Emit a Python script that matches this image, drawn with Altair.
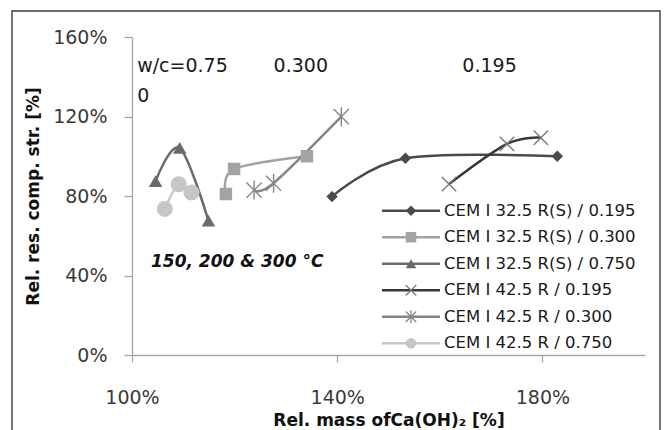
import altair as alt
import pandas as pd

# ---- series --------------------------------------------------------------
series_names = [
    "CEM I 32.5 R(S) / 0.195",
    "CEM I 32.5 R(S) / 0.300",
    "CEM I 32.5 R(S) / 0.750",
    "CEM I 42.5 R / 0.195",
    "CEM I 42.5 R / 0.300",
    "CEM I 42.5 R / 0.750",
]

# relative mass of Ca(OH)2 [%] and relative residual compressive strength [%]
mass_325_0195 = [139.0, 153.3, 182.9]
str_325_0195 = [79.7, 99.0, 100.0]
mass_325_0300 = [118.3, 119.9, 134.1]
str_325_0300 = [81.0, 93.6, 100.0]
mass_325_0750 = [104.6, 109.3, 114.9]
str_325_0750 = [87.5, 104.2, 67.6]
mass_425_0195 = [161.8, 173.1, 179.7]
str_425_0195 = [86.0, 106.2, 109.3]
mass_425_0300 = [123.8, 127.6, 140.8]
str_425_0300 = [83.0, 86.4, 119.9]
mass_425_0750 = [106.4, 109.1, 111.6]
str_425_0750 = [73.5, 85.9, 81.7]

x_ticks = [100, 140, 180]
y_ticks = [0, 40, 80, 120, 160]

# ---- styling per series -------------------------------------------------
line_colors = ["#4a4a4a", "#a3a3a3", "#6a6a6a", "#383838", "#858585", "#c6c6c6"]
marker_strokes = ["#4a4a4a", "#a3a3a3", "#6a6a6a", "#7a7a7a", "#858585", "#c6c6c6"]
x_path = "M-1,-1L1,1M-1,1L1,-1"
star_path = "M-1,-1L1,1M-1,1L1,-1M0,-1.25L0,1.25"
shapes = ["diamond", "square", "triangle-up", x_path, star_path, "circle"]
sizes = [130, 256, 256, 200, 200, 256]
open_markers = ["CEM I 42.5 R / 0.195", "CEM I 42.5 R / 0.300"]

pairs = [
    (mass_325_0195, str_325_0195),
    (mass_325_0300, str_325_0300),
    (mass_325_0750, str_325_0750),
    (mass_425_0195, str_425_0195),
    (mass_425_0300, str_425_0300),
    (mass_425_0750, str_425_0750),
]
rows = []
for name, (xs, ys) in zip(series_names, pairs):
    for xv, yv in zip(xs, ys):
        rows.append({"series": name, "mass": xv, "strength": yv,
                     "open": name in open_markers})
df = pd.DataFrame(rows)

legend_df = pd.DataFrame({
    "series": series_names,
    "row": list(range(len(series_names))),
    "open": [n in open_markers for n in series_names],
})

color_scale = alt.Scale(domain=series_names, range=line_colors)
stroke_scale = alt.Scale(domain=series_names, range=marker_strokes)
shape_scale = alt.Scale(domain=series_names, range=shapes)
size_scale = alt.Scale(domain=series_names, range=sizes)

FONT = "DejaVu Sans"

x_enc = alt.X(
    "mass:Q",
    scale=alt.Scale(domain=[100, 200], nice=False, zero=False),
    axis=alt.Axis(
        values=x_ticks, labelExpr="datum.value + '%'",
        title="Rel. mass ofCa(OH)₂ [%]",
        tickSize=7, labelPadding=26, labelBaseline="top", labelFlush=False,
        titleY=70, titleBaseline="alphabetic",
    ),
)
y_enc = alt.Y(
    "strength:Q",
    scale=alt.Scale(domain=[0, 160], nice=False),
    axis=alt.Axis(
        values=y_ticks, labelExpr="datum.value + '%'",
        title="Rel. res. comp. str. [%]",
        tickSize=8, labelPadding=17, labelFlush=False,
        titleX=-99, titleY=159, titleAngle=270,
        titleAlign="center", titleBaseline="middle",
    ),
)

base = alt.Chart(df)

lines = base.mark_line(interpolate="cardinal", tension=0, strokeWidth=2.5).encode(
    x=x_enc, y=y_enc,
    color=alt.Color("series:N", scale=color_scale, legend=None),
)

filled_pts = base.transform_filter("!datum.open").mark_point(
    filled=True, opacity=1
).encode(
    x="mass:Q", y="strength:Q",
    color=alt.Color("series:N", scale=color_scale, legend=None),
    shape=alt.Shape("series:N", scale=shape_scale, legend=None),
    size=alt.Size("series:N", scale=size_scale, legend=None),
)

open_pts = base.transform_filter("datum.open").mark_point(
    filled=False, opacity=1, strokeWidth=1.4
).encode(
    x="mass:Q", y="strength:Q",
    stroke=alt.Stroke("series:N", scale=stroke_scale, legend=None),
    shape=alt.Shape("series:N", scale=shape_scale, legend=None),
    size=alt.Size("series:N", scale=size_scale, legend=None),
)

# ---- annotations ---------------------------------------------------------
notes = pd.DataFrame({
    "label": ["w/c=0.75\n0", "0.300", "0.195"],
    "mass": [101.0, 132.9, 169.7],
    "strength": [142.4, 142.4, 142.4],
})
note_left = alt.Chart(notes.iloc[:1]).mark_text(
    align="left", baseline="alphabetic", fontSize=19, font=FONT,
    color="#1a1a1a", lineBreak="\n", lineHeight=30,
).encode(x="mass:Q", y="strength:Q", text="label:N")
note_center = alt.Chart(notes.iloc[1:]).mark_text(
    align="center", baseline="alphabetic", fontSize=19, font=FONT,
    color="#1a1a1a",
).encode(x="mass:Q", y="strength:Q", text="label:N")

temps = pd.DataFrame({"label": ["150, 200 & 300 °C"], "mass": [103.7], "strength": [44.4]})
temp_note = alt.Chart(temps).mark_text(
    align="left", baseline="alphabetic", fontSize=17, font=FONT,
    fontWeight="bold", fontStyle="italic", color="#111111",
).encode(x="mass:Q", y="strength:Q", text="label:N")

# ---- legend drawn inside the plot area ----------------------------------
leg = alt.Chart(legend_df).transform_calculate(ly="173.7 + datum.row * 26.5")
leg_y = alt.Y("ly:Q", scale=None, axis=None)
leg_lines = leg.mark_rule(strokeWidth=2.5).encode(
    x=alt.value(250), x2=alt.value(308), y=leg_y,
    color=alt.Color("series:N", scale=color_scale, legend=None),
)
leg_filled = leg.transform_filter("!datum.open").mark_point(filled=True, opacity=1).encode(
    x=alt.value(279), y=leg_y,
    color=alt.Color("series:N", scale=color_scale, legend=None),
    shape=alt.Shape("series:N", scale=shape_scale, legend=None),
    size=alt.value(110),
)
leg_open = leg.transform_filter("datum.open").mark_point(
    filled=False, opacity=1, strokeWidth=1.3
).encode(
    x=alt.value(279), y=leg_y,
    stroke=alt.Stroke("series:N", scale=stroke_scale, legend=None),
    shape=alt.Shape("series:N", scale=shape_scale, legend=None),
    size=alt.value(110),
)
leg_text = leg.mark_text(
    align="left", baseline="middle", fontSize=16.5, font=FONT, color="#1a1a1a"
).encode(x=alt.value(312), y=leg_y, text="series:N")

# ---- outer frame -----------------------------------------------------------
frame = alt.Chart(pd.DataFrame({"k": [0]})).mark_rect(
    fill=None, stroke="#3c3c3c", strokeWidth=1.4
).encode(
    x=alt.value(-120), x2=alt.value(528), y=alt.value(-26), y2=alt.value(410),
)

chart = alt.layer(
    frame, lines, filled_pts, open_pts, note_left, note_center, temp_note,
    leg_lines, leg_filled, leg_open, leg_text,
).properties(
    width=513, height=318, autosize="none",
    padding={"left": 132, "top": 37, "right": 19, "bottom": 75},
    background="white",
).configure_view(stroke=None).configure_axis(
    grid=False, domainColor="#a6a6a6", domainWidth=1.3, tickColor="#a6a6a6",
    tickWidth=1.3, labelFont=FONT, labelFontSize=19, labelColor="#3a3a3a",
    titleFont=FONT, titleFontSize=17, titleFontWeight="bold", titleColor="#111111",
)

chart.save("out.html", embed_options={"renderer": "svg", "actions": False})
